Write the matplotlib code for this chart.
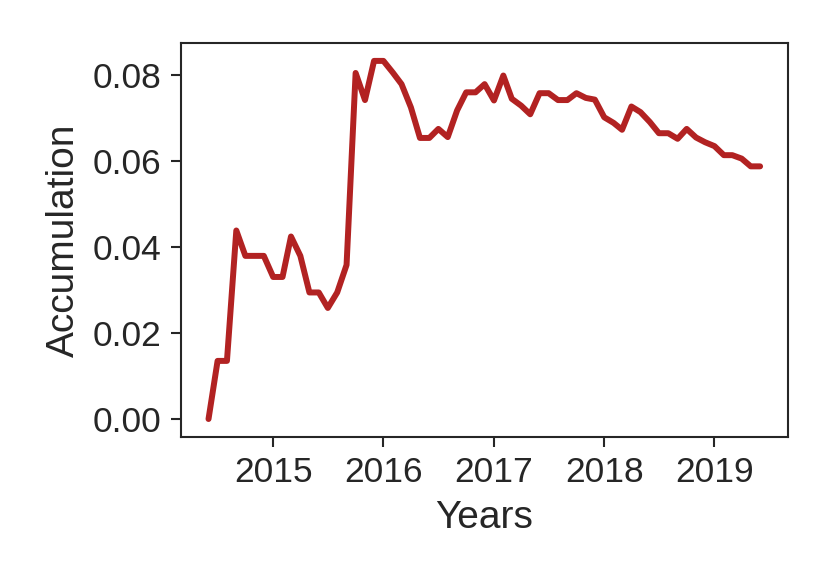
import matplotlib
matplotlib.use("Agg")
import matplotlib.pyplot as plt
import matplotlib.dates as mdates
import pandas as pd

start_month = "2014-06-01"
n_months = 61
accumulation = [
    0.0000, 0.0135, 0.0135, 0.0438, 0.0379, 0.0379, 0.0379,
    0.0330, 0.0330, 0.0424, 0.0379, 0.0294, 0.0294, 0.0258, 0.0294, 0.0358, 0.0804, 0.0741, 0.0832,
    0.0832, 0.0805, 0.0778, 0.0724, 0.0653, 0.0653, 0.0674, 0.0655, 0.0717, 0.0759, 0.0759, 0.0778,
    0.0740, 0.0798, 0.0744, 0.0728, 0.0708, 0.0757, 0.0757, 0.0741, 0.0741, 0.0757, 0.0746, 0.0742,
    0.0701, 0.0688, 0.0672, 0.0726, 0.0713, 0.0690, 0.0664, 0.0664, 0.0651, 0.0674, 0.0654, 0.0643,
    0.0634, 0.0613, 0.0613, 0.0605, 0.0587, 0.0587,
]
dates = pd.date_range(start_month, periods=n_months, freq="MS")

dark = "#262626"
plt.rcParams["font.family"] = ["Liberation Sans", "DejaVu Sans"]

fig = plt.figure(figsize=(8.3, 5.81), dpi=100)
ax = fig.add_axes([0.218, 0.248, 0.731, 0.678])
ax.plot(dates, accumulation, color="#b22222", linewidth=4.3, solid_capstyle="round",
        solid_joinstyle="round")

ax.xaxis.set_major_locator(mdates.YearLocator())
ax.xaxis.set_major_formatter(mdates.DateFormatter("%Y"))
ax.set_yticks([0.00, 0.02, 0.04, 0.06, 0.08])
ax.set_yticklabels(["0.00", "0.02", "0.04", "0.06", "0.08"])

for sp in ax.spines.values():
    sp.set_color(dark)
    sp.set_linewidth(1.5)
ax.tick_params(axis="both", which="major", length=7, width=1.5, color=dark,
               labelsize=25.5, labelcolor=dark, pad=7)
ax.set_xlabel("Years", fontsize=28, color=dark, labelpad=8)
ax.set_ylabel("Accumulation", fontsize=28, color=dark, labelpad=8)

fig.savefig("out.png", dpi=100, facecolor="white")
